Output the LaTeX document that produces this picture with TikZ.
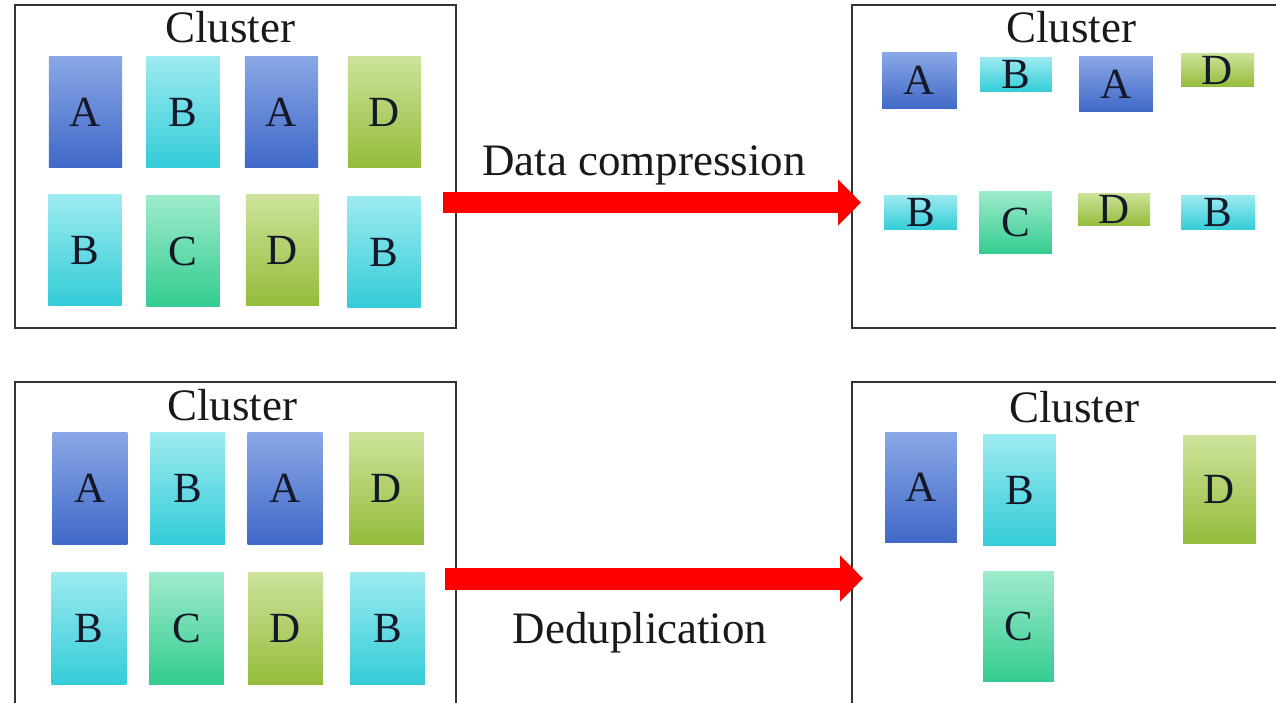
\documentclass[tikz,border=0pt]{standalone}
\usepackage{fontspec}
\setmainfont{Liberation Serif}
\usetikzlibrary{arrows.meta}
\definecolor{atop}{HTML}{8AA8E6}
\definecolor{abot}{HTML}{3F68C8}
\definecolor{btop}{HTML}{9DEBF0}
\definecolor{bbot}{HTML}{33CCD8}
\definecolor{ctop}{HTML}{9EEBCB}
\definecolor{cbot}{HTML}{33CC90}
\definecolor{dtop}{HTML}{CDE39B}
\definecolor{dbot}{HTML}{94BC3A}
\definecolor{ink}{HTML}{141828}
\tikzset{
    blk/.style={rectangle,inner sep=0pt,minimum width=1.47cm,minimum height=2.22cm,
        text=ink,font=\fontsize{24.5}{25}\selectfont},
    blkA/.style={blk,top color=atop,bottom color=abot},
    blkB/.style={blk,top color=btop,bottom color=bbot},
    blkC/.style={blk,top color=ctop,bottom color=cbot},
    blkD/.style={blk,top color=dtop,bottom color=dbot},
    cluster/.style={draw=black!80,line width=1.7pt},
    title/.style={anchor=base,text=black!90,font=\fontsize{25.6}{26}\selectfont},
    bigarrow/.style={red,line width=0.44cm,arrows={-Triangle[length=0.46cm,width=0.9cm]}},
    }
\begin{document}
\begin{tikzpicture}[x=0.02cm,y=-0.02cm]
    \clip (0,0) rectangle (1276,703);
    \fill[white] (0,0) rectangle (1276,703);

    % clusters
    \draw[cluster] (15,5) rectangle (456,328);
    \draw[cluster] (852,5) rectangle (1300,328);
    \draw[cluster] (15,382) rectangle (456,720);
    \draw[cluster] (852,382) rectangle (1300,720);

    \node[title] (t1) at (230,42) {Cluster};
    \node[title] (t2) at (1071,42) {Cluster};
    \node[title] (t3) at (232,420) {Cluster};
    \node[title] (t4) at (1074,422) {Cluster};

    % top left
    \node[blkA] (a1) at (85.5,112) {A};
    \node[blkB] (b1) at (183,112) {B};
    \node[blkA] (a2) at (281.5,112) {A};
    \node[blkD] (d1) at (384.5,112) {D};
    \node[blkB] (b2) at (85,250) {B};
    \node[blkC] (c1) at (183,251) {C};
    \node[blkD] (d2) at (282.5,250) {D};
    \node[blkB] (b3) at (384,252) {B};

    % top right
    \node[blkA,minimum width=1.5cm,minimum height=1.14cm] (ca1) at (919.5,80.5) {A};
    \node[blkB,minimum width=1.44cm,minimum height=0.7cm] (cb1) at (1016,74.5) {B};
    \node[blkA,minimum width=1.48cm,minimum height=1.12cm] (ca2) at (1116,84) {A};
    \node[blkD,minimum width=1.46cm,minimum height=0.68cm] (cd1) at (1217.5,70) {D};
    \node[blkB,minimum width=1.46cm,minimum height=0.7cm] (cb2) at (920.5,212.5) {B};
    \node[blkC,minimum width=1.46cm,minimum height=1.26cm] (cc1) at (1015.5,222.5) {C};
    \node[blkD,minimum width=1.44cm,minimum height=0.66cm] (cd2) at (1114,209.5) {D};
    \node[blkB,minimum width=1.48cm,minimum height=0.7cm] (cb3) at (1218,212.5) {B};

    % bottom left
    \node[blkA,minimum width=1.5cm,minimum height=2.24cm] (a3) at (90,488.5) {A};
    \node[blkB,minimum width=1.5cm,minimum height=2.24cm] (b4) at (187.5,488.5) {B};
    \node[blkA,minimum width=1.5cm,minimum height=2.24cm] (a4) at (285,488.5) {A};
    \node[blkD,minimum width=1.5cm,minimum height=2.24cm] (d3) at (386.5,488.5) {D};
    \node[blkB,minimum width=1.5cm,minimum height=2.26cm] (b5) at (89,628.5) {B};
    \node[blkC,minimum width=1.5cm,minimum height=2.26cm] (c2) at (186.5,628.5) {C};
    \node[blkD,minimum width=1.5cm,minimum height=2.26cm] (d4) at (285.5,628.5) {D};
    \node[blkB,minimum width=1.5cm,minimum height=2.26cm] (b6) at (387.5,628.5) {B};

    % bottom right
    \node[blkA,minimum width=1.44cm] (da1) at (921,487.5) {A};
    \node[blkB,minimum width=1.46cm,minimum height=2.24cm] (db1) at (1019.5,490) {B};
    \node[blkD,minimum width=1.46cm,minimum height=2.18cm] (dd1) at (1219.5,489.5) {D};
    \node[blkC,minimum width=1.42cm] (dc1) at (1018.5,626.5) {C};

    % arrows
    \coordinate (cmpS) at (443,202.5);
    \coordinate (cmpE) at (861,202.5);
    \coordinate (dupS) at (445,578.5);
    \coordinate (dupE) at (863,578.5);
    \draw[bigarrow] (cmpS) -- (cmpE);
    \draw[bigarrow] (dupS) -- (dupE);

    \node[title] (cmp) at (644,175) {Data compression};
    \node[title] (dup) at (640,643) {Deduplication};
\end{tikzpicture}
\end{document}
